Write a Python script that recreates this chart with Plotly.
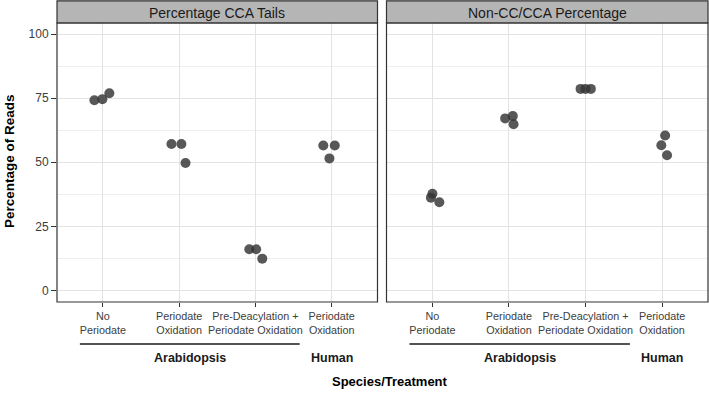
import plotly.graph_objects as go

# ---- data ----
treatments = ["No<br>Periodate", "Periodate<br>Oxidation",
              "Pre-Deacylation +<br>Periodate Oxidation", "Periodate<br>Oxidation"]
species_groups = ["Arabidopsis", "Human"]
panel_titles = ["Percentage CCA Tails", "Non-CC/CCA Percentage"]

cca_tails = [[74.2, 74.6, 76.9], [57.1, 57.1, 49.7], [16.1, 16.1, 12.4], [56.5, 56.5, 51.5]]
cca_jitter = [[-0.11, -0.005, 0.086], [-0.10, 0.03, 0.084], [-0.08, 0.01, 0.09], [-0.11, 0.04, -0.03]]

non_cca = [[37.7, 36.2, 34.4], [67.1, 68.0, 64.8], [78.6, 78.6, 78.6], [60.4, 56.6, 52.7]]
non_jitter = [[0.0, -0.02, 0.09], [-0.05, 0.05, 0.06], [-0.065, 0.0, 0.07], [0.04, -0.01, 0.065]]

y_ticks = [0, 25, 50, 75, 100]

# ---- figure ----
W, H = 709, 393
fig = go.Figure()
FONT = "Liberation Sans, Arial, sans-serif"
pt_color = "rgba(51,51,51,0.82)"

for p, (vals, jit) in enumerate([(cca_tails, cca_jitter), (non_cca, non_jitter)]):
    xs, ys = [], []
    for i, (vv, jj) in enumerate(zip(vals, jit)):
        for v, j in zip(vv, jj):
            xs.append(i + 1 + j)
            ys.append(v)
    fig.add_trace(go.Scatter(x=xs, y=ys, mode="markers",
                             marker=dict(size=10, color=pt_color, line=dict(width=0)),
                             xaxis="x" if p == 0 else "x2", yaxis="y" if p == 0 else "y2",
                             showlegend=False, hoverinfo="x+y"))

def px_x(v):
    return v / W

def px_y(v):
    return 1 - v / H

panel_top, panel_bot = 23, 302
doms = [(57, 377.5), (386.5, 708)]
ydom = [px_y(panel_bot), px_y(panel_top)]

xcommon = dict(range=[0.4, 4.6], tickvals=[1, 2, 3, 4], ticktext=treatments,
               showgrid=True, gridcolor="#e3e3e3", gridwidth=1, zeroline=False,
               ticks="outside", ticklen=4, tickcolor="#333333", tickwidth=1,
               tickfont=dict(family=FONT, size=10.8, color="#3d3d3d"),
               showline=False, mirror=False, fixedrange=True)
ycommon = dict(range=[-4.5, 104.3], tickvals=y_ticks, showgrid=True,
               gridcolor="#e3e3e3", gridwidth=1, zeroline=False,
               minor=dict(tickvals=[12.5, 37.5, 62.5, 87.5], showgrid=True,
                          gridcolor="#eeeeee", gridwidth=1, ticks=""),
               domain=ydom, fixedrange=True)

fig.update_layout(
    width=W, height=H, margin=dict(l=0, r=0, t=0, b=0),
    paper_bgcolor="white", plot_bgcolor="white",
    xaxis=dict(domain=[px_x(doms[0][0]), px_x(doms[0][1])], anchor="y", **xcommon),
    xaxis2=dict(domain=[px_x(doms[1][0]), px_x(doms[1][1])], anchor="y2", **xcommon),
    yaxis=dict(anchor="x", ticks="outside", ticklen=5, tickcolor="#333333",
               tickfont=dict(family=FONT, size=12, color="#3d3d3d"), **ycommon),
    yaxis2=dict(anchor="x2", matches="y", showticklabels=False, ticks="", **ycommon),
    showlegend=False,
)

shapes = []
annotations = []
for p in range(2):
    x0, x1 = doms[p]
    # strip
    shapes.append(dict(type="rect", xref="paper", yref="paper",
                       x0=px_x(x0), x1=px_x(x1), y0=px_y(panel_top), y1=px_y(0.8),
                       fillcolor="#b5b5b5", line=dict(color="#333333", width=1.2), layer="above"))
    # panel border
    shapes.append(dict(type="rect", xref="paper", yref="paper",
                       x0=px_x(x0), x1=px_x(x1), y0=px_y(panel_bot), y1=px_y(panel_top),
                       fillcolor="rgba(0,0,0,0)", line=dict(color="#333333", width=1.2), layer="above"))
    annotations.append(dict(text=panel_titles[p], xref="paper", yref="paper",
                            x=px_x((x0 + x1) / 2), y=px_y(12.5), showarrow=False,
                            xanchor="center", yanchor="middle",
                            font=dict(family=FONT, size=14, color="#1a1a1a")))
    xr = "x" if p == 0 else "x2"
    # species bracket line
    shapes.append(dict(type="line", xref=xr, yref="paper", x0=0.70, x1=3.58,
                       y0=px_y(344), y1=px_y(344), line=dict(color="#1a1a1a", width=1.3)))
    annotations.append(dict(text="<b>" + species_groups[0] + "</b>", xref=xr, yref="paper",
                            x=2.14, y=px_y(358), showarrow=False, xanchor="center", yanchor="middle",
                            font=dict(family=FONT, size=12.5, color="#1a1a1a")))
    annotations.append(dict(text="<b>" + species_groups[1] + "</b>", xref=xr, yref="paper",
                            x=4.0, y=px_y(358), showarrow=False, xanchor="center", yanchor="middle",
                            font=dict(family=FONT, size=12.5, color="#1a1a1a")))

annotations.append(dict(text="<b>Species/Treatment</b>", xref="paper", yref="paper",
                        x=px_x(390), y=px_y(381), showarrow=False, xanchor="center", yanchor="middle",
                        font=dict(family=FONT, size=13, color="black")))
annotations.append(dict(text="<b>Percentage of Reads</b>", xref="paper", yref="paper",
                        x=px_x(9), y=px_y(161), showarrow=False, xanchor="center", yanchor="middle",
                        textangle=-90, font=dict(family=FONT, size=13.5, color="black")))

fig.update_layout(shapes=shapes, annotations=annotations)
fig.write_html("out.html", config={"displayModeBar": False},
               post_script="document.body.style.margin='0';document.body.style.padding='0';")
